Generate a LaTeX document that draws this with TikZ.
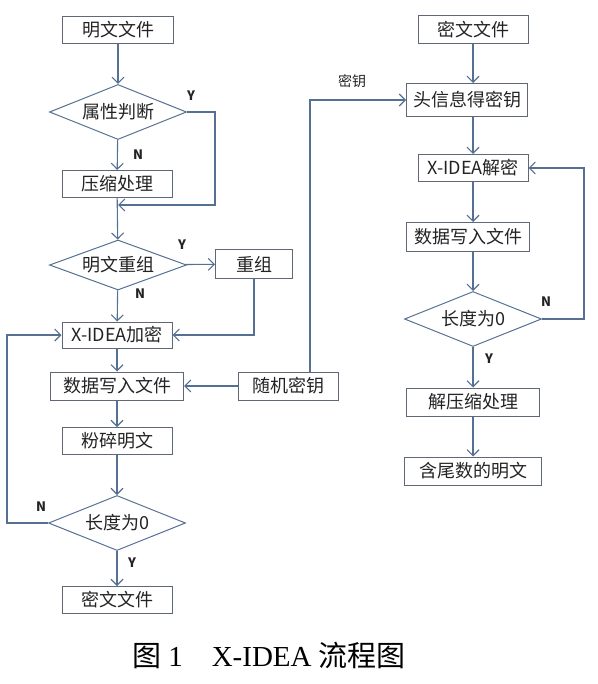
\documentclass[tikz,border=0pt]{standalone}
\usepackage{fontspec}
\setmainfont{Liberation Serif}
\newfontfamily\cjk{Noto Sans CJK SC}
\usetikzlibrary{shapes.geometric,arrows.meta}
\definecolor{linec}{RGB}{86,112,148}
\definecolor{boxc}{RGB}{96,104,118}
\definecolor{txtc}{RGB}{35,35,35}

\begin{document}
\begin{tikzpicture}[x=1pt,y=-1pt,
    box/.style={draw=boxc, line width=1pt, minimum height=27pt, inner sep=0pt, text=txtc, font=\cjk\fontsize{18}{18}\selectfont},
    dmd/.style={draw=linec, line width=1pt, diamond, aspect=2.5, minimum width=137pt, minimum height=55pt, inner sep=0pt, text=txtc, font=\cjk\fontsize{18}{18}\selectfont},
    arr/.style={draw=linec, line width=1.1pt, -{Straight Barb[length=6pt,width=12pt]}},
    lbl/.style={text=txtc, font=\cjk\bfseries\fontsize{13}{13}\selectfont}]
    \useasboundingbox (0,0) rectangle (597,684);
    \node[box, minimum width=111pt] (pf) at (118,30) {明文文件};
    \node[dmd] (attr) at (118,112) {属性判断};
    \node[box, minimum width=110pt] (zip) at (117,184) {压缩处理};
    \node[dmd, minimum height=50pt] (reg) at (118,265) {明文重组};
    \node[box, minimum width=77pt, minimum height=28pt] (rg) at (254,264) {重组};
    \node[box, minimum width=110pt, minimum height=26pt] (enc) at (117,335) {X-IDEA加密};
    \node[box, minimum width=133pt, minimum height=28pt] (wr) at (117,386) {数据写入文件};
    \node[box, minimum width=100pt, minimum height=28pt] (rk) at (288,386) {随机密钥};
    \node[box, minimum width=110pt] (shr) at (117,441) {粉碎明文};
    \node[dmd] (len) at (117,523) {长度为0};
    \node[box, minimum width=110pt] (cf) at (117,600) {密文文件};
    \node[box, minimum width=110pt, minimum height=28pt] (cf2) at (473,30) {密文文件};
    \node[box, minimum width=121pt, minimum height=33pt] (hdr) at (467,100) {头信息得密钥};
    \node[box, minimum width=110pt] (dec) at (473,168) {X-IDEA解密};
    \node[box, minimum width=123pt, minimum height=29pt] (wr2) at (468,237) {数据写入文件};
    \node[dmd] (len2) at (473,319) {长度为0};
    \node[box, minimum width=133pt, minimum height=28pt] (unz) at (473,402) {解压缩处理};
    \node[box, minimum width=137pt, minimum height=28pt] (tail) at (473,471) {含尾数的明文};
    \coordinate (join) at (118,205);
    \draw[arr] (pf) -- (attr);
    \draw[arr] (attr.east) -- ++(28,0) |- (join);
    \draw[arr] (attr) -- (zip);
    \draw[arr] (zip) -- (reg);
    \draw[arr] (reg) -- (rg);
    \draw[arr] (reg) -- (enc);
    \draw[arr] (rg) |- (enc);
    \draw[arr] (enc) -- (wr);
    \draw[arr] (rk) -- (wr);
    \draw[arr] ([xshift=22pt]rk.north) |- (hdr);
    \draw[arr] (wr) -- (shr);
    \draw[arr] (shr) -- (len);
    \draw[arr] (len.west) -- ++(-41,0) |- (enc);
    \draw[arr] (len) -- (cf);
    \draw[arr] (cf2) -- (cf2 |- hdr.north);
    \draw[arr] (cf2 |- hdr.south) -- (dec);
    \draw[arr] (dec) -- (dec |- wr2.north);
    \draw[arr] (dec |- wr2.south) -- (len2);
    \draw[arr] (len2.east) -- ++(42,0) |- (dec);
    \draw[arr] (len2) -- (unz);
    \draw[arr] (unz) -- (tail);
    \node[lbl] (y1) at (191,96) {Y};
    \node[lbl] (n1) at (138,155) {N};
    \node[lbl] (y2) at (182,245) {Y};
    \node[lbl] (n2) at (140,294) {N};
    \node[lbl] (n3) at (41,507) {N};
    \node[lbl] (y3) at (132,563) {Y};
    \node[lbl] (n4) at (546,302) {N};
    \node[lbl] (y4) at (489,359) {Y};
    \node[text=txtc, font=\cjk\fontsize{14}{14}\selectfont] (key) at (352,81) {密钥};
    \node[text=black, font=\fontsize{29}{29}\selectfont] (cap) at (269,655) {{\cjk 图}~1\quad X-IDEA~{\cjk 流程图}};
\end{tikzpicture}
\end{document}
